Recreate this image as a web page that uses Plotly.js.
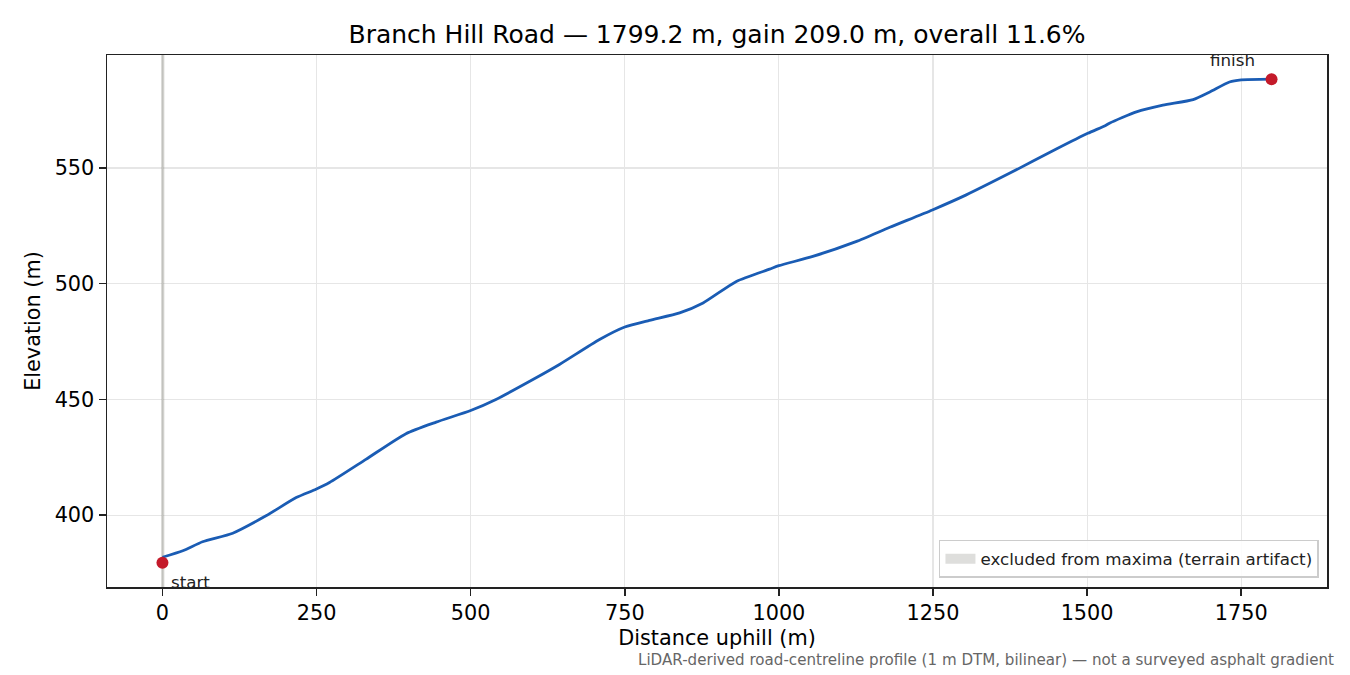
<!DOCTYPE html>
<html>
<head>
<meta charset="utf-8">
<script src="https://cdn.plot.ly/plotly-3.0.1.min.js"></script>
<style>
  html, body { margin: 0; padding: 0; background: #fff; }
  #chart { width: 1350px; height: 675px; }
</style>
</head>
<body>
<div id="chart"></div>
<script>
// profile (distance uphill in m, elevation in m)
var distance = [0, 33, 65, 114, 168, 217, 249, 271, 330, 395, 444, 500, 541, 601, 644, 709, 750, 790, 839, 877,
    931, 985, 1000, 1055, 1125, 1180, 1249, 1304, 1374, 1450, 1501, 1530, 1537, 1580, 1623, 1672, 1699, 1731, 1750, 1799.2];
var elevation = [381.8, 384.6, 388.5, 392.2, 399.7, 407.6, 411.2, 414.1, 424.1, 435.2, 440.2, 445.2, 450.0, 458.6, 465.1, 475.9, 481.3, 484.2, 487.4, 491.7,
    501.0, 506.3, 507.8, 511.8, 518.2, 524.4, 531.9, 538.4, 547.7, 558.2, 565.0, 568.4, 569.5, 574.3, 577.2, 579.6, 582.9, 587.2, 588.1, 588.4];

var endDist = [0, 1799.2];
var endElev = [379.4, 588.4];
var endLabels = ['start', 'finish'];

var excludedDist = [-2, 3];
var excludedName = 'excluded from maxima (terrain artifact)';

var xTicks = [0, 250, 500, 750, 1000, 1250, 1500, 1750];
var yTicks = [400, 450, 500, 550];

var xRange = [-89.96, 1889.16];
var yRange = [368.95, 598.85];

var font = 'DejaVu Sans, sans-serif';

var band = {
    x: [excludedDist[0], excludedDist[1], excludedDist[1], excludedDist[0], excludedDist[0]],
    y: [yRange[0], yRange[0], yRange[1], yRange[1], yRange[0]],
    type: 'scatter',
    mode: 'none',
    fill: 'toself',
    fillcolor: 'rgba(140,140,130,0.4)',
    hoverinfo: 'skip',
    showlegend: false
};

// legend entry for the band (matplotlib draws it as a wide patch)
var bandKey = {
    x: [null],
    y: [null],
    type: 'scatter',
    mode: 'lines',
    line: {color: '#dededc', width: 12},
    name: excludedName,
    showlegend: true
};

var profile = {
    x: distance,
    y: elevation,
    type: 'scatter',
    mode: 'lines',
    line: {color: '#1a5cb4', width: 2.8, shape: 'spline', smoothing: 0.6},
    showlegend: false
};

var ends = {
    x: endDist,
    y: endElev,
    type: 'scatter',
    mode: 'markers',
    marker: {color: '#c41a2a', size: 12},
    showlegend: false,
    cliponaxis: false
};

var annotations = [
    {x: endDist[0], y: endElev[0], xref: 'x', yref: 'y', text: endLabels[0], showarrow: false,
     xanchor: 'left', yanchor: 'middle', xshift: 7, yshift: -19, font: {family: font, size: 16.7, color: '#222'}},
    {x: endDist[1], y: endElev[1], xref: 'x', yref: 'y', text: endLabels[1], showarrow: false,
     xanchor: 'right', yanchor: 'middle', xshift: -15, yshift: 19, font: {family: font, size: 16.7, color: '#222'}},
    {x: 1.0074, y: -0.137, xref: 'paper', yref: 'paper', showarrow: false, xanchor: 'right', yanchor: 'middle',
     text: 'LiDAR-derived road-centreline profile (1 m DTM, bilinear) — not a surveyed asphalt gradient',
     font: {family: font, size: 15.1, color: '#666'}}
];

var layout = {
    width: 1350,
    height: 675,
    margin: {l: 107, r: 23, t: 55, b: 88},
    paper_bgcolor: '#fff',
    plot_bgcolor: '#fff',
    font: {family: font, size: 20.8, color: '#000'},
    title: {text: 'Branch Hill Road — 1799.2 m, gain 209.0 m, overall 11.6%', xref: 'paper', x: 0.5, xanchor: 'center',
            y: 0.95, yanchor: 'middle', font: {family: font, size: 25, color: '#000'}},
    xaxis: {
        range: xRange, tickvals: xTicks, ticktext: xTicks.map(String),
        showgrid: true, gridcolor: '#e6e6e6', gridwidth: 1.2, zeroline: false,
        showline: true, linecolor: '#222', linewidth: 1.5, mirror: true,
        ticks: 'outside', ticklen: 7, tickwidth: 1.5, tickcolor: '#222', tickfont: {size: 20.8},
        title: {text: 'Distance uphill (m)', font: {size: 20.8}, standoff: 6}
    },
    yaxis: {
        range: yRange, tickvals: yTicks, ticktext: yTicks.map(String),
        showgrid: true, gridcolor: '#e6e6e6', gridwidth: 1.2, zeroline: false,
        showline: true, linecolor: '#222', linewidth: 1.5, mirror: true,
        ticks: 'outside', ticklen: 7, tickwidth: 1.5, tickcolor: '#222', tickfont: {size: 20.8},
        title: {text: 'Elevation (m)', font: {size: 20.8}, standoff: 8}
    },
    legend: {
        x: 0.9934, y: 0.017, xanchor: 'right', yanchor: 'bottom',
        bgcolor: 'rgba(255,255,255,0.85)', bordercolor: '#cccccc', borderwidth: 1.5,
        font: {family: font, size: 16.7, color: '#222'}
    },
    annotations: annotations,
    showlegend: true
};

Plotly.newPlot('chart', [band, profile, ends, bandKey], layout, {staticPlot: true});
</script>
</body>
</html>
